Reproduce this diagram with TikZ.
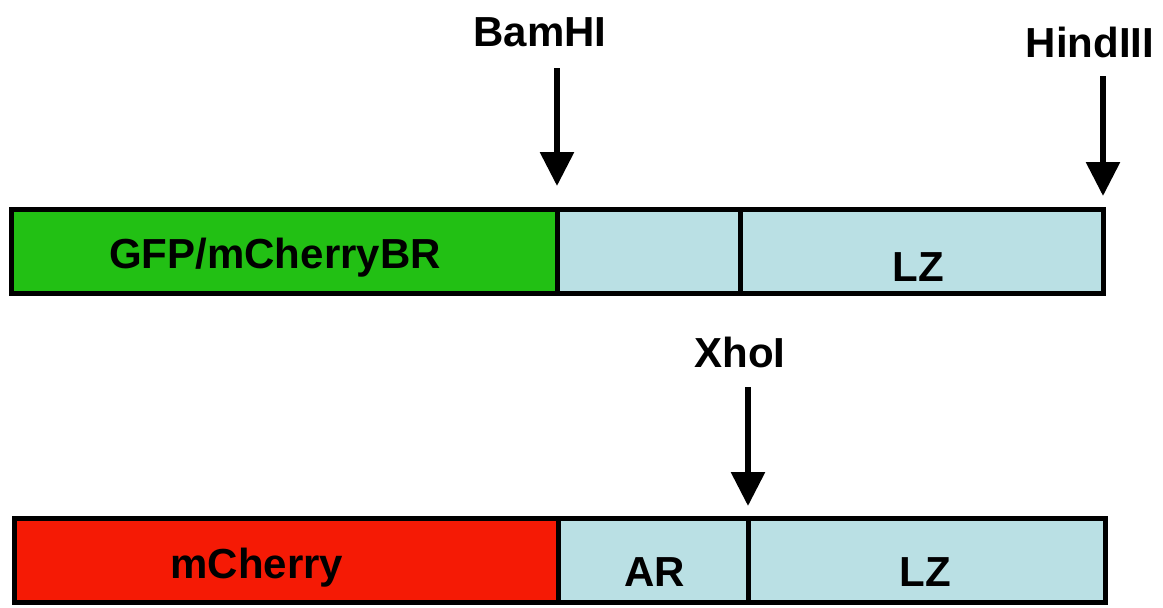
\documentclass[tikz,border=0pt]{standalone}
\usepackage{fontspec}
\setmainfont{Liberation Sans}
\usetikzlibrary{arrows.meta}
\definecolor{gfpgreen}{RGB}{34,192,20}
\definecolor{cherryred}{RGB}{245,26,5}
\definecolor{lzblue}{RGB}{186,224,228}
\tikzset{
  seg/.style={draw=black, line width=5pt, minimum height=84pt, anchor=north west, inner sep=0pt, outer sep=0pt},
  lab/.style={font=\fontsize{42}{48}\selectfont\bfseries, inner sep=0pt},
  site/.style={-{Triangle[width=33pt,length=34pt]}, line width=6pt},
}
\begin{document}
\begin{tikzpicture}[x=1pt,y=-1pt]
\useasboundingbox (0,0) rectangle (1163,608);
% top construct
\node[seg, fill=gfpgreen, minimum width=545.5pt] (gfp) at (11.5,209) {};
\node[seg, fill=lzblue, minimum width=183pt] (brtop) at (557,209) {};
\node[seg, fill=lzblue, minimum width=363.5pt] (lztop) at (740,209) {};
\node[lab] (gfplab) at (275,258) {GFP/mCherryBR};
\node[lab] (lztoplab) at (918,267) {LZ};
% bottom construct
\node[seg, fill=cherryred, minimum width=543.5pt] (mch) at (14.5,518.5) {};
\node[seg, fill=lzblue, minimum width=190pt] (ar) at (558,518.5) {};
\node[seg, fill=lzblue, minimum width=357.5pt] (lzbot) at (748,518.5) {};
\node[lab] (mchlab) at (257,568) {mCherry};
\node[lab] (arlab) at (655,572) {AR};
\node[lab] (lzbotlab) at (925,572) {LZ};
% restriction sites
\node[lab] (bam) at (540,32) {BamHI};
\node[lab] (hind) at (1090,42) {HindIII};
\node[lab] (xho) at (740,352) {XhoI};
\coordinate (bamtop) at (557,68);
\coordinate (bamtip) at (557,186);
\coordinate (hindtop) at (1103,76);
\coordinate (hindtip) at (1103,196);
\coordinate (xhotop) at (748,387);
\coordinate (xhotip) at (748,506);
\draw[site] (bamtop) -- (bamtip);
\draw[site] (hindtop) -- (hindtip);
\draw[site] (xhotop) -- (xhotip);
\end{tikzpicture}
\end{document}
